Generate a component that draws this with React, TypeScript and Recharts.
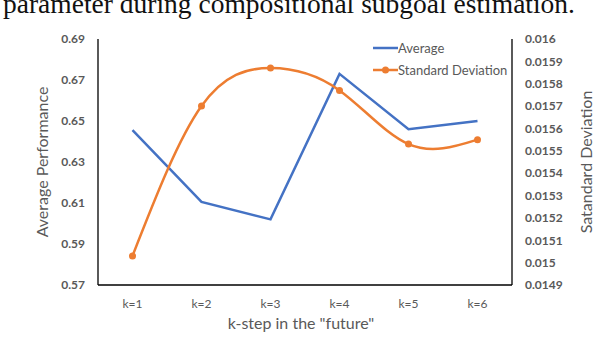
import React from "react";
import {
  ComposedChart,
  Line,
  XAxis,
  YAxis,
  Label,
} from "recharts";

const categories = ["k=1", "k=2", "k=3", "k=4", "k=5", "k=6"];
const average = [0.6455, 0.6105, 0.602, 0.673, 0.646, 0.65];
const stdDev = [0.01503, 0.0157, 0.01587, 0.01577, 0.01553, 0.01555];

const leftTicks = [0.57, 0.59, 0.61, 0.63, 0.65, 0.67, 0.69];
const rightTicks = [
  0.0149, 0.015, 0.0151, 0.0152, 0.0153, 0.0154, 0.0155, 0.0156, 0.0157,
  0.0158, 0.0159, 0.016,
];

const data = categories.map((k, i) => ({
  k,
  avg: average[i],
  std: stdDev[i],
}));

const FONT = "Lato, 'Open Sans', sans-serif";
const GREY = "#595959";
const BLUE = "#4472C4";
const ORANGE = "#ED7D31";

const tickStyle = { fontSize: 12, fill: GREY, fontFamily: FONT, fontWeight: 700 };
const titleStyle = { fontSize: 16, fill: GREY, fontFamily: FONT };
const legendText = { fontSize: 13, fill: GREY, fontFamily: FONT };

// legend drawn by hand, Recharts' own legend pushes the plot down
function LegendBox() {
  return (
    <svg
      width={150}
      height={45}
      style={{ position: "absolute", left: 372, top: 38 }}
    >
      <line x1={1} y1={10} x2={26} y2={10} stroke={BLUE} strokeWidth={2.5} />
      <text x={26} y={14.5} style={legendText}>
        Average
      </text>
      <line x1={1} y1={32} x2={26} y2={32} stroke={ORANGE} strokeWidth={2.5} />
      <circle cx={13.5} cy={32} r={3.5} fill={ORANGE} />
      <text x={26} y={36.5} style={legendText}>
        Standard Deviation
      </text>
    </svg>
  );
}

export default function App() {
  return (
    <div
      style={{
        position: "absolute",
        left: 0,
        top: 0,
        width: 594,
        height: 342,
        background: "#fff",
        overflow: "hidden",
      }}
    >
      <svg
        width={594}
        height={30}
        style={{ position: "absolute", left: 0, top: 0 }}
      >
        <text
          x={575}
          y={13}
          textAnchor="end"
          style={{ fontFamily: "'Liberation Serif', serif", fontSize: 27.5, fill: "#111" }}
        >
          parameter during compositional subgoal estimation.
        </text>
      </svg>
      <ComposedChart
        width={594}
        height={342}
        data={data}
        margin={{ top: 39, right: 22, bottom: 17, left: 38 }}
      >
        <XAxis
          dataKey="k"
          padding={{ left: 34.5, right: 34.5 }}
          axisLine={{ stroke: "#000", strokeWidth: 1.3 }}
          tickLine={false}
          tickSize={0}
          tickMargin={14}
          height={40}
          tick={{ ...tickStyle, fontWeight: 400 }}
        >
          <Label value={'k-step in the "future"'} position="center" dx={-4} dy={18} style={titleStyle} />
        </XAxis>
        <YAxis
          yAxisId="left"
          domain={[0.57, 0.69]}
          ticks={leftTicks}
          tickFormatter={(v: number) => v.toFixed(2)}
          axisLine={{ stroke: "#000", strokeWidth: 1.3 }}
          tickLine={false}
          tickSize={0}
          tickMargin={13}
          width={60}
          interval={0}
          tick={tickStyle}
        >
          <Label value="Average Performance" angle={-90} position="center" dx={-26} style={titleStyle} />
        </YAxis>
        <YAxis
          yAxisId="right"
          orientation="right"
          domain={[0.0149, 0.016]}
          ticks={rightTicks}
          tickFormatter={(v: number) => String(Number(v.toFixed(4)))}
          axisLine={{ stroke: "#000", strokeWidth: 1.3 }}
          tickLine={false}
          tickSize={0}
          tickMargin={13}
          width={60}
          interval={0}
          tick={tickStyle}
        >
          <Label value="Satandard Deviation" angle={-90} position="center" dx={44} style={titleStyle} />
        </YAxis>
        <Line
          yAxisId="left"
          type="linear"
          dataKey="avg"
          name="Average"
          stroke={BLUE}
          strokeWidth={2.5}
          dot={false}
          isAnimationActive={false}
        />
        <Line
          yAxisId="right"
          type="natural"
          dataKey="std"
          name="Standard Deviation"
          stroke={ORANGE}
          strokeWidth={2.5}
          dot={{ r: 3.5, fill: ORANGE, stroke: ORANGE, strokeWidth: 0 }}
          isAnimationActive={false}
        />
      </ComposedChart>
      <LegendBox />
    </div>
  );
}
